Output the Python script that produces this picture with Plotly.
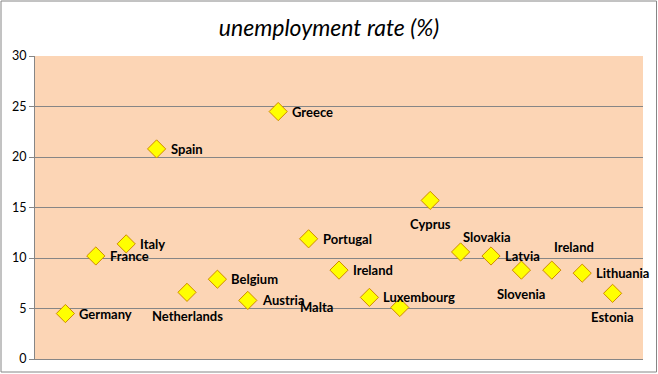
import plotly.graph_objects as go

countries = ["Germany", "France", "Italy", "Spain", "Netherlands", "Belgium", "Austria",
             "Greece", "Portugal", "Ireland", "Luxembourg", "Malta", "Cyprus", "Slovakia",
             "Latvia", "Slovenia", "Ireland", "Lithuania", "Estonia"]
rates = [4.5, 10.2, 11.4, 20.8, 6.6, 7.9, 5.8, 24.5, 11.9, 8.8, 6.1, 5.1, 15.7, 10.6,
         10.2, 8.8, 8.8, 8.5, 6.5]
positions = list(range(1, len(countries) + 1))
y_ticks = [0, 5, 10, 15, 20, 25, 30]

# label placement relative to each point
label_place = ["right"] * len(countries)
label_place[4] = "below"        # Netherlands
label_place[11] = "farleft"     # Malta
label_place[12] = "below"       # Cyprus
label_place[13] = "aboveright"  # Slovakia
label_place[15] = "below"       # Slovenia
label_place[16] = "aboveright2" # Ireland
label_place[18] = "below"       # Estonia

fig = go.Figure()
fig.add_trace(go.Scatter(
    x=positions, y=rates, mode="markers",
    marker=dict(symbol="diamond", size=14, color="#FFFF00",
                line=dict(color="#D08A00", width=1)),
    cliponaxis=False, showlegend=False, hoverinfo="skip"))

font_lbl = dict(family="Lato, Calibri, sans-serif", size=13, color="#000000", weight="bold")
for xi, yi, name, pl in zip(positions, rates, countries, label_place):
    if pl == "right":
        kw = dict(xanchor="left", yanchor="middle", xshift=12, yshift=0)
    elif pl == "below":
        kw = dict(xanchor="center", yanchor="middle", xshift=0, yshift=-24)
    elif pl == "farleft":
        kw = dict(xanchor="right", yanchor="middle", xshift=-65, yshift=0)
    elif pl == "aboveright":
        kw = dict(xanchor="center", yanchor="middle", xshift=26, yshift=15)
    else:
        kw = dict(xanchor="center", yanchor="middle", xshift=22, yshift=23)
    fig.add_annotation(x=xi, y=yi, xref="x", yref="y", text=name, showarrow=False,
                       font=font_lbl, **kw)

fig.update_layout(
    width=658, height=374,
    margin=dict(l=35, r=15, t=56, b=15),
    paper_bgcolor="#FFFFFF",
    plot_bgcolor="#FCD5B5",
    title=dict(text="unemployment rate (%)", x=0.5, xanchor="center", y=0.925, yanchor="middle",
               font=dict(family="Lato, Calibri, sans-serif", size=23, color="#000000", style="italic")),
    xaxis=dict(range=[0, 20], showticklabels=False, showgrid=False, zeroline=False,
               showline=True, linecolor="#868686", linewidth=1, ticks="", automargin=False),
    yaxis=dict(range=[0, 30], tickvals=y_ticks, showgrid=True, gridcolor="#868686", gridwidth=1,
               zeroline=False, showline=True, linecolor="#868686", linewidth=1,
               ticks="outside", ticklen=5, tickcolor="#868686", automargin=False,
               tickfont=dict(family="Lato, Calibri, sans-serif", size=12.5, color="#000000")),
    shapes=[dict(type="rect", xref="paper", yref="paper",
                 x0=(1 - 35) / 608, x1=(656.5 - 35) / 608,
                 y0=(359 - 372) / 303, y1=(359 - 1) / 303,
                 line=dict(color="#868686", width=1), fillcolor="rgba(0,0,0,0)", layer="below")],
)

post = (
    "document.documentElement.style.margin='0';"
    "document.documentElement.style.overflow='hidden';"
    "document.body.style.margin='0';"
    "document.body.style.padding='0';"
    "document.body.style.overflow='hidden';"
    "var g=document.getElementById('{plot_id}');"
    "g.style.display='block';"
    "if(g.parentElement){g.parentElement.style.lineHeight='0';}"
)
fig.write_html("out.html", config={"displayModeBar": False, "staticPlot": True},
               post_script=post)
